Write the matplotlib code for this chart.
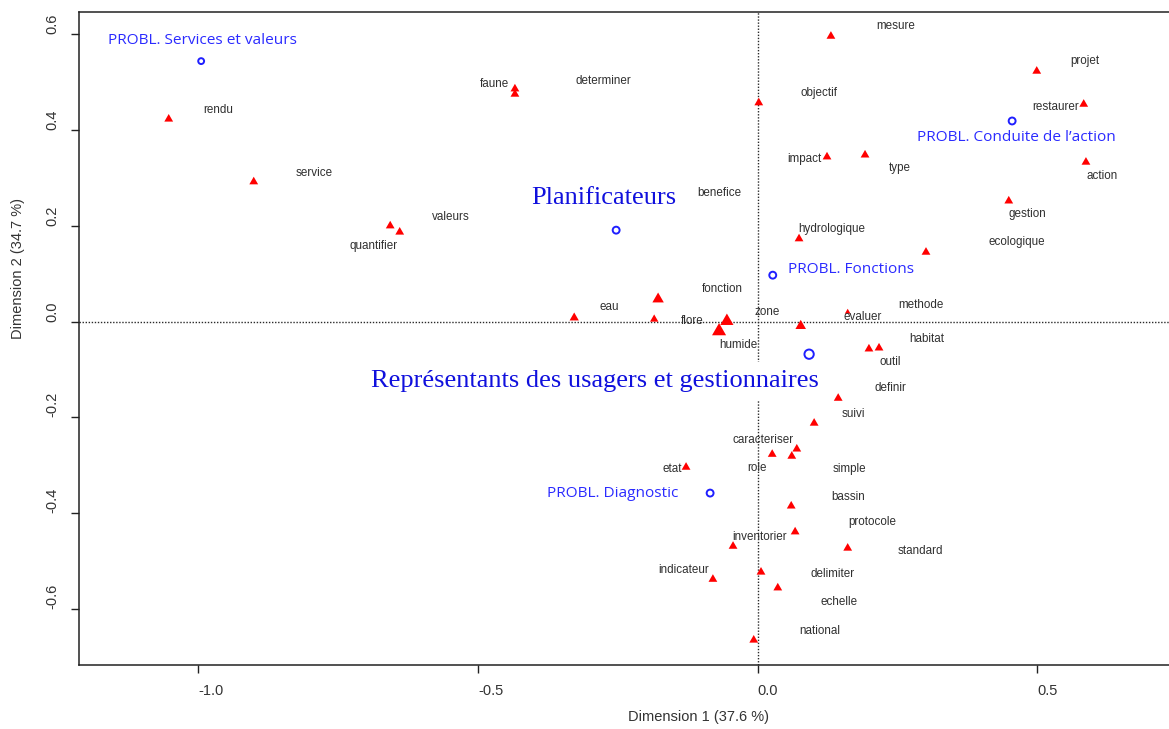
import matplotlib
matplotlib.use("Agg")
import matplotlib.pyplot as plt
from matplotlib.path import Path

# ---- correspondence analysis coordinates -------------------------------
words = [
    "rendu", "service", "quantifier", "valeurs", "faune", "determiner",
    "objectif", "mesure", "projet", "restaurer", "impact", "type", "action",
    "gestion", "hydrologique", "ecologique", "benefice", "fonction", "eau",
    "flore", "zone", "humide", "methode", "evaluer", "habitat", "outil",
    "definir", "suivi", "caracteriser", "role", "simple", "etat", "bassin",
    "protocole", "inventorier", "standard", "indicateur", "delimiter",
    "echelle", "national",
]
dim1 = [
    -1.053, -0.901, -0.657, -0.640, -0.434, -0.434,
    0.002, 0.131, 0.499, 0.583, 0.124, 0.192, 0.587,
    0.449, 0.074, 0.301, -0.194, -0.178, -0.328,
    -0.185, -0.055, -0.069, 0.161, 0.077, 0.199, 0.217,
    0.144, 0.101, 0.026, 0.061, 0.070, -0.128, 0.060,
    0.067, -0.044, 0.161, -0.080, 0.006,
    0.036, -0.007,
]
dim2 = [
    0.423, 0.292, 0.200, 0.187, 0.486, 0.475,
    0.457, 0.596, 0.523, 0.454, 0.344, 0.348, 0.333,
    0.252, 0.173, 0.145, 0.250, 0.047, 0.008,
    0.005, 0.001, -0.020, 0.020, -0.009, -0.057, -0.055,
    -0.160, -0.212, -0.277, -0.281, -0.266, -0.304, -0.385,
    -0.439, -0.469, -0.473, -0.538, -0.523,
    -0.556, -0.665,
]

groups = [
    "PROBL. Services et valeurs",
    "Planificateurs",
    "PROBL. Conduite de l\u2019action",
    "PROBL. Fonctions",
    "Représentants des usagers et gestionnaires",
    "PROBL. Diagnostic",
]
group_dim1 = [-0.995, -0.253, 0.455, 0.027, 0.092, -0.085]
group_dim2 = [0.544, 0.191, 0.419, 0.097, -0.068, -0.358]

x_title = "Dimension 1 (37.6 %)"
y_title = "Dimension 2 (34.7 %)"
x_ticks = [-1.0, -0.5, 0.0, 0.5]
y_ticks = [-0.6, -0.4, -0.2, 0.0, 0.2, 0.4, 0.6]

# ---- presentation ------------------------------------------------------
# label offsets from each mark, in pixels (right, up)
word_offsets = [
    (49, 9), (60, 9), (-17, -20), (51, 15), (-20, 5), (88, 13),
    (60, 10), (65, 10), (48, 10), (-28, -3), (-23, -2), (35, -13), (16, -14),
    (19, -13), (33, 10), (91, 10), (70, 9), (64, 10), (35, 11),
    (38, -2), (40, 9), (19, -14), (73, 7), (62, 9), (58, 10), (11, -14),
    (52, 10), (39, 9), (-9, 14), (-35, -12), (53, -20), (-14, -2), (57, 9),
    (77, 10), (27, 9), (73, -3), (-29, 9), (72, -2),
    (61, -14), (66, 9),
]
marker_scale = {"zone": 1.5, "humide": 1.6, "fonction": 1.3, "eau": 1.05,
                "flore": 0.95, "evaluer": 1.2, "methode": 0.65}

group_offsets = [(1, 21), (-12, 32), (4, -17), (78, 6), (-214, -27), (-97, 0)]
group_serif = [False, True, False, False, True, False]
group_ring = [0.85, 1.0, 1.0, 1.0, 1.35, 1.0]

PX = 72.0 / 100.0  # pixels -> points at 100 dpi

plt.rcParams["font.family"] = ["Liberation Sans", "DejaVu Sans"]

fig = plt.figure(figsize=(11.69, 7.29), dpi=100)
ax = fig.add_axes([0.0673, 0.0878, 0.9395, 0.8957])
ax.set_xlim(-1.214, 0.7497)
ax.set_ylim(-0.717, 0.6465)

# reference lines through the origin
dots = (0, (1, 1.2))
ax.axhline(0, color="#2a2a2a", lw=1.0, ls=dots, zorder=1)
ax.axvline(0, color="#2a2a2a", lw=1.0, ls=dots, zorder=1)

# equilateral filled triangle, like R's pch 17
tri = Path([(0, 1), (-0.866, -0.5), (0.866, -0.5), (0, 1)],
           [Path.MOVETO, Path.LINETO, Path.LINETO, Path.CLOSEPOLY])
base_ms = 8.8 / 0.866 * PX
sizes = [(base_ms * marker_scale.get(w, 1.0)) ** 2 for w in words]
ax.scatter(dim1, dim2, s=sizes, marker=tri, c="#ff0000", linewidths=0,
           zorder=3)

for w, x, y, (dx, dy) in zip(words, dim1, dim2, word_offsets):
    ax.annotate(w, (x, y), xytext=(dx * PX, dy * PX),
                textcoords="offset points", ha="center", va="center",
                fontsize=8.4, color="#303030", zorder=4)

# row categories: open circles with their names
ring_ms = 6.9 * PX
ax.scatter(group_dim1, group_dim2, s=[(ring_ms * r) ** 2 for r in group_ring],
           marker="o", facecolors="none", edgecolors="#1f1fff",
           linewidths=1.4, zorder=6)

for g, x, y, (dx, dy), serif in zip(groups, group_dim1, group_dim2,
                                     group_offsets, group_serif):
    if serif:
        ax.annotate(g, (x, y), xytext=(dx * PX, dy * PX),
                    textcoords="offset points", ha="center", va="center",
                    fontsize=19, family="Liberation Serif", color="#1010dd",
                    bbox=dict(boxstyle="square,pad=0.32", fc="white",
                              ec="none"),
                    zorder=5)
    else:
        ax.annotate(g, (x, y), xytext=(dx * PX, dy * PX),
                    textcoords="offset points", ha="center", va="center",
                    fontsize=11.1, family="Open Sans", color="#2b2bff",
                    zorder=5)

# axes frame and ticks
for side in ("left", "bottom", "top"):
    ax.spines[side].set_color("#222222")
    ax.spines[side].set_linewidth(1.1)
ax.spines["right"].set_visible(False)

ax.set_xticks(x_ticks)
ax.set_xticklabels([f"{v:.1f}" for v in x_ticks])
ax.set_yticks(y_ticks)
ax.set_yticklabels([f"{v:.1f}" for v in y_ticks])
ax.tick_params(axis="both", length=6.1, width=1.0, color="#222222",
               labelsize=10.5, labelcolor="#333333", pad=7.5)
for t in ax.get_xticklabels():
    t.set_ha("left")
for t in ax.get_yticklabels():
    t.set_rotation(90)
    t.set_va("bottom")

ax.set_xlabel(x_title, fontsize=10.5, color="#333333")
ax.xaxis.label.set_ha("left")
ax.xaxis.set_label_coords(0.5, -0.0689)
ax.set_ylabel(y_title, fontsize=10.5, color="#333333")
ax.yaxis.label.set_ha("left")
ax.yaxis.set_label_coords(-0.0489, 0.5)

fig.savefig("out.png", dpi=100)
